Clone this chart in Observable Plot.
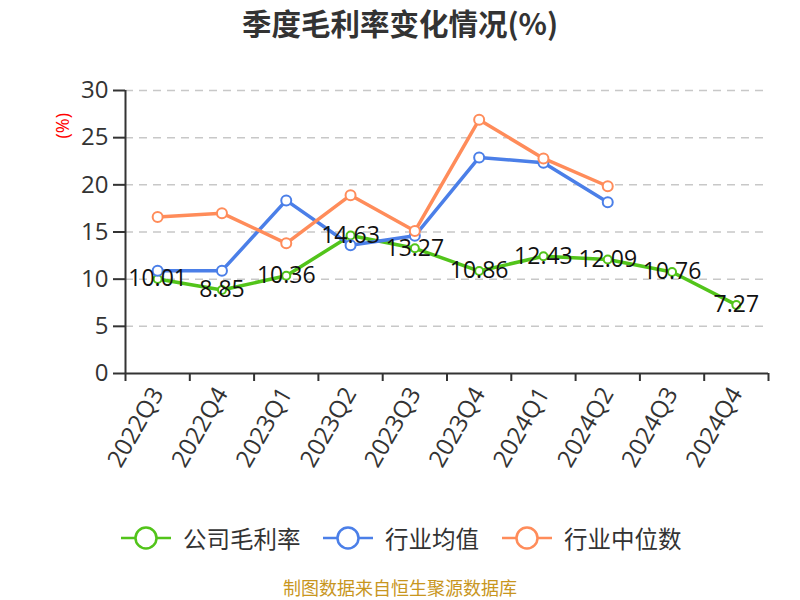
<!DOCTYPE html>
<html><head><meta charset="utf-8">
<script src="https://cdn.jsdelivr.net/npm/d3@7"></script>
<script src="https://cdn.jsdelivr.net/npm/@observablehq/plot@0.6"></script>
<style>
body{margin:0;background:#fff;font-family:"Noto Sans CJK SC","Noto Sans",sans-serif;}
#wrap{width:800px;height:600px;position:relative;overflow:hidden;}
#title{position:absolute;left:0;top:0;width:800px;text-align:center;font-size:29.5px;font-weight:bold;color:#333;line-height:44px;}
#chart{position:absolute;left:0;top:50px;}
#legend{position:absolute;left:0;top:518px;width:800px;height:40px;}
.li{position:absolute;top:0;height:40px;display:flex;align-items:center;font-size:23.5px;color:#333;}
#caption{position:absolute;left:0;top:574px;width:800px;text-align:center;font-size:18px;color:#c8961e;}
</style></head>
<body><div id="wrap">
<div id="title">季度毛利率变化情况(%)</div>
<div id="chart"></div>
<div id="legend"></div>
<div id="caption">制图数据来自恒生聚源数据库</div>
</div>
<script>
const quarters = ["2022Q3","2022Q4","2023Q1","2023Q2","2023Q3","2023Q4","2024Q1","2024Q2","2024Q3","2024Q4"];
const companyMargin = [10.01, 8.85, 10.36, 14.63, 13.27, 10.86, 12.43, 12.09, 10.76, 7.27];
const industryMean = [10.9, 10.9, 18.35, 13.6, 14.6, 22.9, 22.35, 18.15];
const industryMedian = [16.6, 17.0, 13.8, 18.9, 15.1, 26.9, 22.8, 19.85];
const seriesNames = ["公司毛利率","行业均值","行业中位数"];
const seriesColors = ["#52c41a","#4b7fe8","#ff8c5a"];
const yTicks = [0,5,10,15,20,25,30];

const toRows = (vals) => vals.map((v,i) => ({q: quarters[i], i: i + 0.5, v}));
const g = toRows(companyMargin), b = toRows(industryMean), o = toRows(industryMedian);
const edges = d3.range(quarters.length + 1);
const centers = quarters.map((q,i) => i + 0.5);
const numFont = '"Open Sans","Noto Sans CJK SC",sans-serif';

const plot = Plot.plot({
  width: 800, height: 440,
  marginTop: 40, marginBottom: 117, marginLeft: 125, marginRight: 32,
  style: {fontFamily: numFont, background: "transparent"},
  x: {type: "linear", domain: [0, quarters.length]},
  y: {domain: [0, 30]},
  marks: [
    Plot.ruleY(yTicks.filter(d => d > 0), {stroke: "#c8c8c8", strokeWidth: 1.5, strokeDasharray: "8,6"}),
    Plot.axisY({ticks: yTicks, tickSize: 12, tickPadding: 5, fontSize: 24, color: "#333", stroke: "#333", strokeWidth: 2, label: null}),
    Plot.axisX({ticks: edges, tickFormat: () => "", tickSize: 8, stroke: "#333", strokeWidth: 2, label: null}),
    Plot.axisX({ticks: centers, tickFormat: d => quarters[Math.round(d - 0.5)], tickSize: 0, tickPadding: 16, tickRotate: -60, fontSize: 24, color: "#333", label: null}),
    Plot.ruleX([0], {stroke: "#333", strokeWidth: 2}),
    Plot.ruleY([0], {stroke: "#333", strokeWidth: 2}),
    Plot.line(g, {x: "i", y: "v", stroke: seriesColors[0], strokeWidth: 3.5}),
    Plot.dot(g, {x: "i", y: "v", r: 4, fill: "#fff", stroke: seriesColors[0], strokeWidth: 2}),
    Plot.line(b, {x: "i", y: "v", stroke: seriesColors[1], strokeWidth: 3.5}),
    Plot.dot(b, {x: "i", y: "v", r: 5, fill: "#fff", stroke: seriesColors[1], strokeWidth: 2}),
    Plot.line(o, {x: "i", y: "v", stroke: seriesColors[2], strokeWidth: 3.5}),
    Plot.dot(o, {x: "i", y: "v", r: 5, fill: "#fff", stroke: seriesColors[2], strokeWidth: 2}),
    Plot.text(g, {x: "i", y: "v", text: d => d.v.toFixed(2), fontSize: 23, fill: "#111"}),
    Plot.text(["(%)"], {frameAnchor: "top-left", dx: -69, dy: 48, rotate: -90, fill: "red", fontSize: 18, text: d => d})
  ]
});
document.getElementById("chart").appendChild(plot);

const legend = document.getElementById("legend");
const lx = [121, 323, 502];
seriesNames.forEach((n, k) => {
  const d = document.createElement("div");
  d.className = "li";
  d.style.left = lx[k] + "px";
  const c = seriesColors[k];
  d.innerHTML = `<svg width="50" height="40"><line x1="0" y1="20" x2="50" y2="20" stroke="${c}" stroke-width="2.5"/><circle cx="25" cy="20" r="10.5" fill="#fff" stroke="${c}" stroke-width="2.5"/></svg><span style="margin-left:12px">${n}</span>`;
  legend.appendChild(d);
});
</script>
</body></html>
